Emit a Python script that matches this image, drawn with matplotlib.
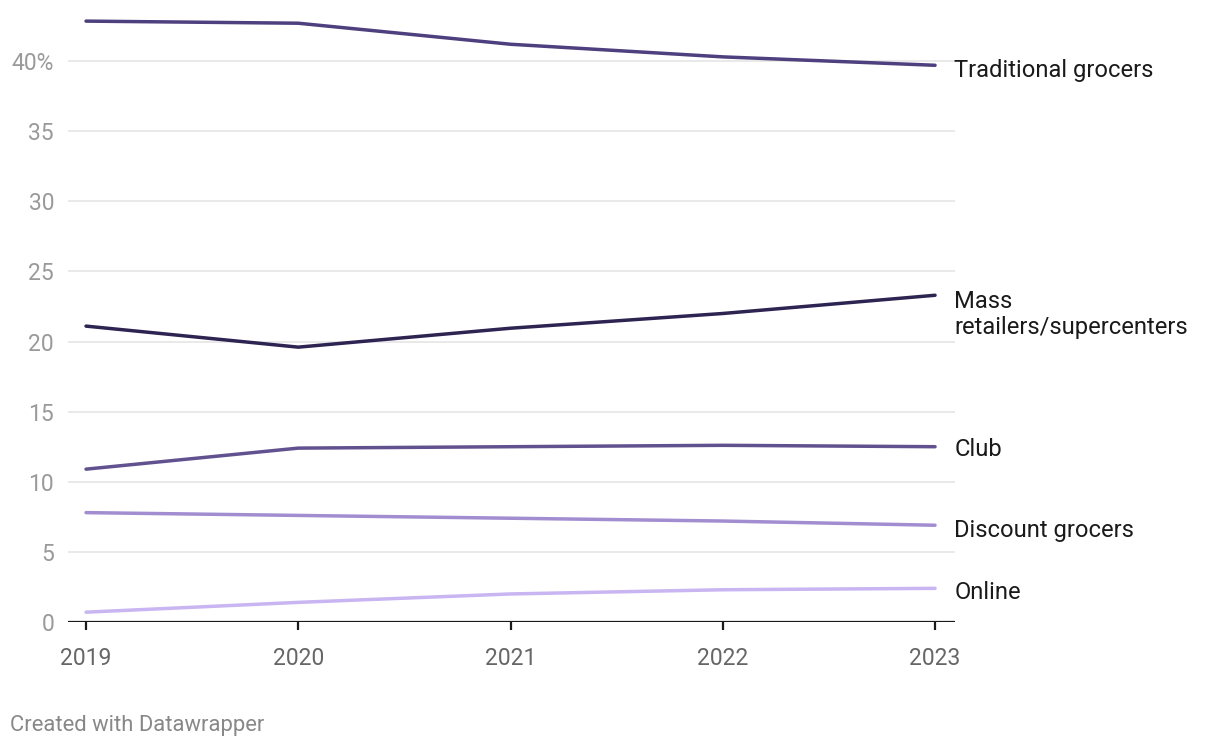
import matplotlib.pyplot as plt

years = [2019, 2020, 2021, 2022, 2023]
traditional = [42.85, 42.7, 41.2, 40.3, 39.7]
mass = [21.1, 19.6, 20.95, 22.0, 23.3]
club = [10.9, 12.4, 12.5, 12.6, 12.5]
discount = [7.8, 7.6, 7.4, 7.2, 6.9]
online = [0.7, 1.4, 2.0, 2.3, 2.4]

series = [
    ("Traditional grocers", traditional, "#4e3f7e", -5),
    ("Mass\nretailers/supercenters", mass, "#2d2451", -19),
    ("Club", club, "#62518f", -3),
    ("Discount grocers", discount, "#a18dd0", -5),
    ("Online", online, "#c8b5f1", -4),
]

plt.rcParams["font.family"] = ["Roboto", "DejaVu Sans"]

fig = plt.figure(figsize=(12.2, 7.48), dpi=100)
ax = fig.add_axes([68 / 1220, 1 - 622 / 748, (955 - 68) / 1220, (622 - 12) / 748])

for label, vals, color, dy in series:
    ax.plot(years, vals, color=color, lw=2.5, solid_capstyle="round", zorder=3)
    ax.annotate(label, xy=(years[-1], vals[-1]), xytext=(14, dy * 0.72),
                textcoords="offset points", va="center", ha="left",
                fontsize=17.1, color="#1a1a1a", linespacing=1.17,
                annotation_clip=False)

ax.set_xlim(2018.915, 2023.094)
ax.set_ylim(0, 43.5)

yticks = [0, 5, 10, 15, 20, 25, 30, 35, 40]
ax.set_yticks(yticks)
ax.set_yticklabels([str(t) if t != 40 else "40%" for t in yticks])
ax.set_xticks(years)
ax.set_xticklabels([str(y) for y in years])

for t in yticks[1:]:
    ax.axhline(t, color="#e3e3e3", lw=1.1, zorder=1)
ax.axhline(0, color="#1a1a1a", lw=1.6, zorder=2)

for s in ax.spines.values():
    s.set_visible(False)
ax.tick_params(axis="y", length=0, pad=10, labelsize=16.5, labelcolor="#9a9a9a")
ax.tick_params(axis="x", length=6, width=1.6, color="#1a1a1a", pad=12,
               labelsize=16.5, labelcolor="#666666")

fig.text(10 / 1220, 1 - 726 / 748, "Created with Datawrapper", fontsize=15.8,
         color="#888888", va="center", ha="left")

fig.savefig("out.png", dpi=100)
